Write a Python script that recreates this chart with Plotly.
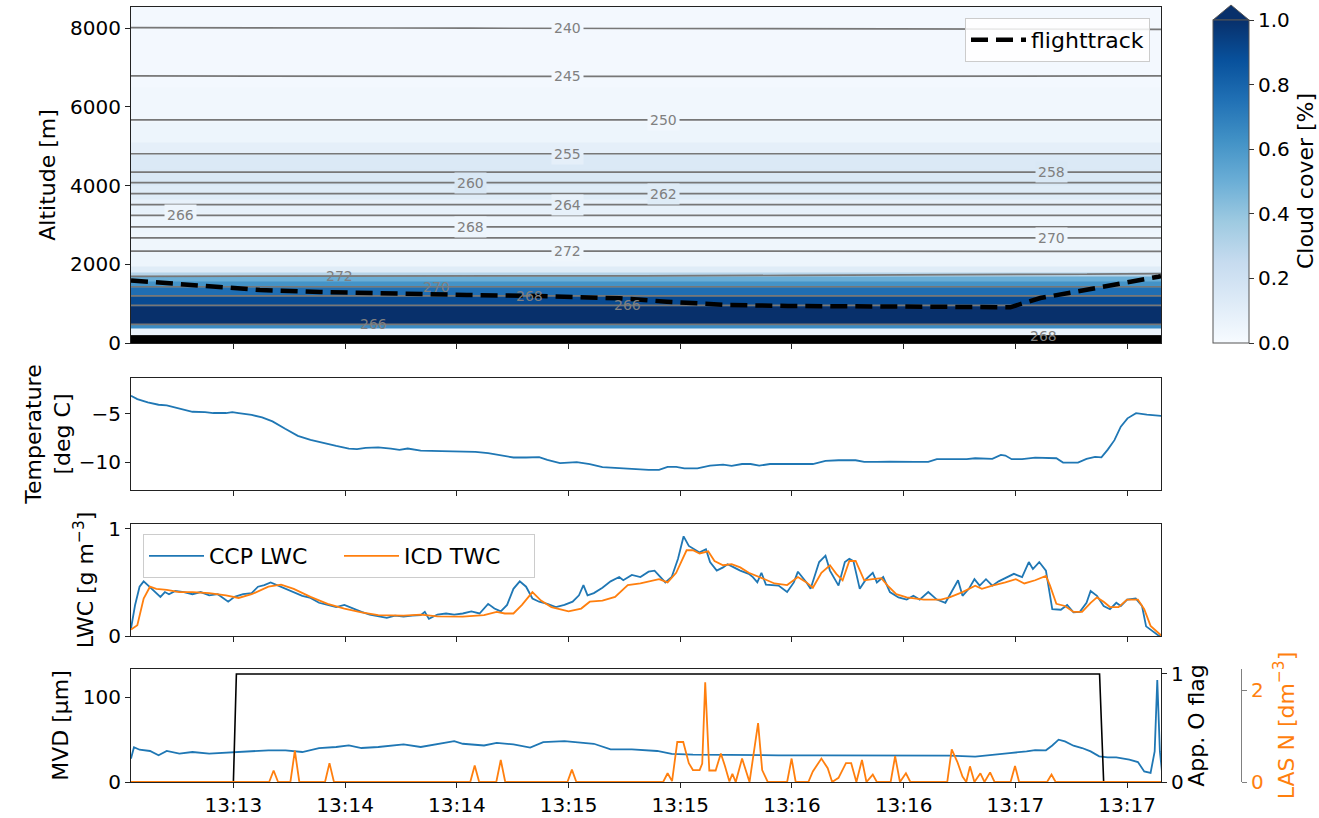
import numpy as np
import pandas as pd
import plotly.graph_objects as go
from plotly.colors import sample_colorscale

# ---------------------------------------------------------------------------
# Data (time in seconds after 13:13:00)
# ---------------------------------------------------------------------------
temp_t = [2.5, 4.2, 7.0, 9.9, 12.1, 14.4, 16.7, 19.0, 22.4, 24.6,
          28.0, 29.7, 31.4, 34.9, 37.7, 40.5, 43.9, 47.3, 50.7, 54.1,
          57.6, 61.0, 63.2, 65.5, 68.9, 72.3, 74.6, 76.8, 80.3, 85.9,
          91.6, 95.0, 98.4, 103.0, 105.2, 108.6, 112.1, 114.3, 117.7, 122.2,
          125.7, 129.1, 133.6, 137.0, 141.5, 144.3, 146.6, 148.9, 151.1, 154.6,
          158.0, 161.5, 163.8, 166.6, 168.9, 171.2, 174.1, 178.7, 185.6, 189.0,
          192.5, 197.1, 199.4, 202.8, 206.3, 213.1, 216.6, 218.9, 222.3, 224.6,
          226.9, 229.2, 233.8, 236.1, 237.3, 239.0, 241.8, 245.3, 251.0, 252.8,
          256.8, 259.1, 261.4, 263.1, 264.8, 266.6, 268.3, 270.1, 272.4, 275.3,
          279.3]
temp_c = [-3.10, -3.45, -3.80, -4.04, -4.10, -4.30, -4.56, -4.77, -4.80, -4.90,
          -4.90, -4.80, -4.90, -5.10, -5.36, -5.77, -6.54, -7.27, -7.68, -8.03,
          -8.31, -8.59, -8.66, -8.52, -8.48, -8.59, -8.73, -8.59, -8.80, -8.86,
          -8.86, -8.93, -9.07, -9.35, -9.52, -9.52, -9.49, -9.77, -10.10, -10.00,
          -10.20, -10.53, -10.63, -10.74, -10.80, -10.80, -10.50, -10.50, -10.65, -10.65,
          -10.37, -10.27, -10.40, -10.20, -10.20, -10.37, -10.20, -10.20, -10.20, -9.88,
          -9.81, -9.81, -9.98, -9.98, -9.95, -9.98, -9.98, -9.70, -9.70, -9.64,
          -9.70, -9.60, -9.67, -9.25, -9.32, -9.70, -9.70, -9.53, -9.60, -10.05,
          -10.05, -9.67, -9.46, -9.50, -8.70, -7.72, -6.32, -5.45, -4.92, -5.06,
          -5.20]

ccp_t = [2.5, 3.6, 4.8, 5.9, 7.0, 8.7, 10.4, 11.6, 12.7, 14.4,
         16.7, 19.0, 21.2, 23.5, 25.8, 28.6, 30.3, 32.6, 34.9, 36.6,
         38.3, 40.0, 41.7, 44.0, 46.2, 48.5, 50.7, 53.0, 55.3, 57.6,
         59.8, 62.1, 64.4, 66.6, 68.9, 71.2, 73.4, 75.7, 78.0, 80.3,
         81.4, 82.5, 84.8, 87.1, 89.3, 91.6, 93.9, 96.1, 98.4, 100.1,
         101.8, 103.5, 105.2, 106.9, 108.6, 110.3, 112.1, 114.3, 116.6, 118.9,
         121.1, 122.8, 124.0, 125.1, 126.8, 129.1, 131.3, 133.6, 134.7, 137.0,
         139.3, 141.5, 143.1, 146.0, 147.7, 149.4, 150.9, 152.3, 155.2, 156.9,
         158.0, 159.8, 161.5, 162.7, 164.4, 166.1, 168.4, 169.5, 170.7, 171.8,
         173.0, 176.4, 178.7, 180.5, 181.6, 183.9, 185.0, 187.3, 189.0, 190.2,
         192.5, 194.2, 195.4, 196.5, 198.2, 199.9, 201.7, 202.8, 204.5, 206.3,
         208.6, 210.8, 212.6, 214.3, 216.6, 218.9, 221.2, 222.9, 224.6, 225.8,
         227.5, 229.0, 230.4, 232.1, 233.8, 235.5, 237.8, 239.6, 241.8, 243.6,
         244.7, 246.4, 248.2, 249.9, 252.2, 253.9, 255.6, 257.3, 259.1, 260.2,
         261.9, 263.7, 265.4, 267.1, 268.3, 270.0, 272.3, 274.0, 275.1, 276.9,
         278.6, 279.3]
ccp_lwc = [0.07, 0.29, 0.46, 0.51, 0.475, 0.42, 0.365, 0.41, 0.39, 0.42,
           0.41, 0.39, 0.41, 0.38, 0.39, 0.32, 0.365, 0.39, 0.40, 0.46,
           0.475, 0.50, 0.475, 0.44, 0.41, 0.375, 0.355, 0.31, 0.29, 0.27,
           0.29, 0.256, 0.225, 0.20, 0.184, 0.17, 0.19, 0.18, 0.19, 0.194,
           0.225, 0.16, 0.20, 0.21, 0.20, 0.21, 0.23, 0.21, 0.30, 0.256,
           0.23, 0.29, 0.44, 0.51, 0.46, 0.35, 0.32, 0.30, 0.27, 0.29,
           0.32, 0.38, 0.475, 0.38, 0.40, 0.45, 0.51, 0.55, 0.52, 0.57,
           0.55, 0.60, 0.61, 0.50, 0.55, 0.72, 0.93, 0.84, 0.78, 0.81,
           0.69, 0.61, 0.64, 0.67, 0.64, 0.61, 0.58, 0.55, 0.50, 0.59,
           0.48, 0.47, 0.41, 0.50, 0.60, 0.50, 0.44, 0.69, 0.75, 0.61,
           0.47, 0.69, 0.72, 0.70, 0.44, 0.53, 0.59, 0.50, 0.55, 0.41,
           0.36, 0.34, 0.375, 0.34, 0.41, 0.34, 0.31, 0.41, 0.52, 0.375,
           0.44, 0.53, 0.47, 0.53, 0.47, 0.51, 0.55, 0.58, 0.55, 0.69,
           0.625, 0.69, 0.61, 0.25, 0.245, 0.29, 0.22, 0.225, 0.31, 0.42,
           0.375, 0.28, 0.25, 0.31, 0.28, 0.34, 0.35, 0.28, 0.09, 0.04,
           0.0, 0.0]

icd_t = [2.5, 4.2, 5.9, 7.6, 9.3, 12.1, 15.5, 19.0, 23.5, 28.0,
         31.4, 34.9, 39.4, 42.8, 46.2, 50.7, 55.3, 59.8, 64.4, 68.9,
         75.7, 80.3, 84.8, 91.6, 97.3, 100.7, 102.9, 105.2, 107.5, 110.3,
         112.6, 115.4, 120.0, 123.4, 125.7, 129.1, 132.5, 135.9, 139.3, 142.7,
         144.3, 146.6, 148.9, 151.7, 153.4, 155.2, 157.5, 159.2, 161.5, 163.8,
         166.1, 168.4, 170.7, 173.0, 175.3, 178.7, 181.6, 183.9, 185.6, 187.9,
         190.2, 191.9, 193.6, 195.4, 197.1, 199.4, 201.7, 204.0, 205.7, 208.0,
         210.8, 215.4, 220.0, 222.3, 225.8, 229.2, 231.0, 233.8, 237.3, 240.1,
         242.4, 245.3, 248.2, 249.3, 251.0, 253.3, 255.6, 257.9, 260.2, 261.9,
         263.7, 265.4, 267.7, 270.0, 272.9, 274.6, 276.3, 278.6, 279.3]
icd_twc = [0.06, 0.10, 0.35, 0.46, 0.44, 0.43, 0.41, 0.41, 0.40, 0.38,
           0.355, 0.39, 0.46, 0.48, 0.44, 0.365, 0.30, 0.256, 0.22, 0.194,
           0.19, 0.20, 0.184, 0.18, 0.194, 0.225, 0.21, 0.21, 0.29, 0.41,
           0.33, 0.27, 0.23, 0.256, 0.32, 0.33, 0.365, 0.475, 0.49, 0.52,
           0.53, 0.50, 0.59, 0.80, 0.80, 0.77, 0.79, 0.70, 0.66, 0.67,
           0.64, 0.59, 0.56, 0.525, 0.49, 0.475, 0.55, 0.50, 0.45, 0.59,
           0.66, 0.58, 0.52, 0.70, 0.70, 0.52, 0.53, 0.54, 0.47, 0.39,
           0.36, 0.34, 0.34, 0.36, 0.41, 0.47, 0.44, 0.47, 0.50, 0.53,
           0.49, 0.52, 0.56, 0.47, 0.30, 0.28, 0.225, 0.225, 0.31, 0.36,
           0.32, 0.27, 0.27, 0.34, 0.34, 0.25, 0.094, 0.016, 0.0]

mvd_t = [2.5, 3.3, 4.8, 7.6, 9.9, 12.1, 15.5, 19.0, 23.5, 28.0,
         30.3, 34.9, 39.4, 44.0, 48.5, 53.0, 57.6, 61.0, 64.4, 68.9,
         75.7, 80.3, 84.8, 89.3, 91.6, 97.3, 100.7, 105.2, 109.7, 113.2,
         118.9, 123.4, 126.8, 131.3, 137.0, 143.8, 147.7, 153.4, 164.9, 176.4,
         187.9, 199.4, 210.8, 222.3, 229.2, 233.8, 238.4, 243.0, 245.3, 248.2,
         249.9, 251.6, 253.3, 255.6, 257.9, 260.2, 262.5, 264.8, 267.1, 270.6,
         272.9, 274.6, 276.3, 277.4, 278.1, 278.8, 279.4]
mvd_um = [27.5, 41.0, 38.0, 36.5, 31.4, 36.5, 33.3, 35.3, 33.3, 34.5,
          35.3, 36.0, 37.3, 37.3, 35.3, 40.0, 41.2, 43.0, 40.0, 41.2,
          44.3, 41.2, 45.0, 48.0, 45.0, 43.0, 46.0, 44.3, 40.4, 47.0,
          48.0, 46.7, 45.0, 38.4, 38.4, 36.5, 33.0, 32.2, 31.4, 31.4,
          31.4, 31.4, 31.4, 31.0, 29.8, 32.2, 34.0, 36.0, 37.6, 37.3,
          43.0, 49.8, 47.8, 42.7, 40.0, 36.0, 30.2, 29.0, 29.0, 26.3,
          23.5, 12.5, 10.6, 36.0, 120.0, 36.0, 10.6]

flag_t = [2.5, 30.0, 30.8, 262.6, 263.7, 279.4]
flag_v = [0, 0, 1, 1, 0, 0]

las_t = [2.5, 39.6, 40.8, 42.0, 45.3, 46.5, 47.7, 54.6, 55.8, 57.0,
         93.6, 94.8, 96.0, 100.6, 101.8, 103.0, 119.7, 120.9, 122.1, 145.4,
         146.6, 147.8, 149.2, 150.8, 152.3, 153.4, 155.2, 155.9, 156.7, 157.8,
         159.5, 160.9, 162.0, 163.2, 164.0, 164.9, 166.6, 168.6, 170.9, 172.0,
         173.5, 178.7, 179.9, 181.0, 184.4, 185.6, 187.9, 189.6, 190.8, 192.5,
         194.5, 195.9, 197.3, 198.8, 200.0, 201.7, 202.8, 206.5, 207.7, 209.0,
         210.6, 211.8, 221.7, 222.9, 224.4, 225.8, 226.8, 227.8, 229.0, 230.6,
         231.7, 233.2, 234.4, 238.7, 239.9, 241.0, 248.5, 249.7, 250.8, 279.4]
las_n = [0, 0, 0.25, 0, 0, 0.68, 0, 0, 0.41, 0,
         0, 0.36, 0, 0, 0.48, 0, 0, 0.27, 0, 0,
         0.19, 0.02, 0.87, 0.87, 0.41, 0.26, 0.26, 0.40, 2.17, 0.25,
         0.25, 0.62, 0.35, 0.01, 0.18, 0, 0.51, 0, 1.28, 0.26,
         0, 0, 0.51, 0, 0, 0.23, 0.51, 0.30, 0, 0.09,
         0.41, 0.41, 0, 0.48, 0, 0.16, 0, 0, 0.56, 0,
         0.19, 0, 0, 0.71, 0.44, 0.12, 0, 0.34, 0, 0.19,
         0, 0.21, 0, 0, 0.35, 0, 0, 0.16, 0, 0]

# flight track altitude
track_t = [2.5, 29.1, 37.1, 53.2, 76.6, 92.7, 112.3, 123.9, 133.8, 146.4,
           155.3, 162.8, 178.9, 203.7, 230.5, 238.6, 246.7, 254.7, 262.8, 270.9,
           278.4, 279.1]
track_alt = [1587, 1415, 1346, 1295, 1237, 1219, 1194, 1176, 1135, 1049,
             990, 965, 940, 940, 914, 907, 1143, 1277, 1430, 1557,
             1684, 1700]

# terrain below the curtain
ground_t = [2.5, 279.1]
ground_alt = [200, 200]

# model cloud cover profile (layer edges in m, fraction per layer)
cloud_edges = [0, 200, 380, 460, 940, 1180, 1420, 1560, 1680, 1800, 1950,
               2300, 2800, 3300, 3650, 4000, 4400, 4800, 5100, 5600, 6500, 8700]
cloud_frac = [0.0, 0.06, 0.65, 1.0, 0.9, 0.76, 0.62, 0.5, 0.3, 0.12,
              0.05, 0.04, 0.05, 0.08, 0.12, 0.15, 0.14, 0.09, 0.05, 0.03, 0.02]
cloud_t_edges = [2.5, 279.1]

# model temperature field [K] on altitude levels at three output times
model_t = [2.5, 140.0, 279.1]
model_alt = [0, 250, 500, 750, 1000, 1250, 1500, 1750, 2000, 2250,
             2500, 2750, 3000, 3250, 3500, 3750, 4000, 4250, 4500, 5000,
             5500, 6000, 6500, 7000, 7500, 8000, 8500, 8700]
model_T_start = [269.1, 267.6, 265.8, 265.3, 266.15, 268.5, 270.6, 272.4, 272.9, 272.45,
                 271.1, 269.5, 267.6, 265.95, 264.1, 262.3, 260.6, 258.6, 256.9, 253.8,
                 250.7, 248.6, 246.3, 244.0, 242.0, 240.05, 237.9, 237.1]
model_T_mid = [269.1, 267.6, 265.8, 265.3, 266.15, 268.5, 270.6, 272.3, 272.9, 272.45,
               271.1, 269.5, 267.6, 265.95, 264.1, 262.3, 260.6, 258.6, 256.9, 253.8,
               250.7, 248.6, 246.3, 243.9, 242.0, 239.95, 237.9, 237.1]
model_T_end = [269.1, 267.6, 265.8, 265.3, 266.15, 268.5, 270.6, 271.95, 272.9, 272.45,
               271.0, 269.5, 267.6, 265.95, 264.1, 262.3, 260.6, 258.6, 256.9, 253.8,
               250.7, 248.6, 246.3, 244.0, 242.0, 239.85, 237.9, 237.1]

# where the isotherm labels sit: (level, seconds, crossing index from the top)
contour_label_spots = [(240, 119.6, 0), (245, 119.6, 0), (250, 145.6, 0), (255, 119.6, 0),
                       (258, 249.6, 0), (260, 93.8, 0), (262, 145.6, 0), (264, 119.6, 0),
                       (266, 15.9, 0), (268, 93.8, 0), (270, 249.6, 0), (272, 119.6, 0),
                       (272, 58.6, 1), (270, 84.6, 1), (268, 109.6, 1), (266, 135.7, 1),
                       (266, 67.5, 2), (268, 247.5, 2)]

tick_sec = [30, 60, 90, 120, 150, 180, 210, 240, 270]
x_lim_sec = [2.5, 279.1]

# ---------------------------------------------------------------------------
T0 = pd.Timestamp("2000-01-01 13:13:00")


def to_time(sec):
    return T0 + pd.to_timedelta(np.asarray(sec, dtype=float), unit="s")


BLUES = [[0.0, "#f7fbff"], [0.125, "#deebf7"], [0.25, "#c6dbef"], [0.375, "#9ecae1"],
         [0.5, "#6baed6"], [0.625, "#4292c6"], [0.75, "#2171b5"], [0.875, "#08519c"],
         [1.0, "#08306b"]]
C_BLUE = "#1f77b4"
C_ORANGE = "#ff7f0e"
FONT = "DejaVu Sans"
TICK_SIZE = 20
TITLE_SIZE = 22

W, H = 1319, 818
XD = [131 / W, 1161 / W]


def ydom(top_px, bottom_px):
    return [1 - bottom_px / H, 1 - top_px / H]


x_range = [to_time(x_lim_sec[0]), to_time(x_lim_sec[1])]
tickvals = to_time(tick_sec)
ticktext = [t.strftime("%H:%M") for t in tickvals]

model_field = np.column_stack([model_T_start, model_T_mid, model_T_end])

fig = go.Figure()

# --- panel 1: cloud cover curtain, isotherms, flight track -----------------
fig.add_trace(go.Heatmap(
    x=to_time(cloud_t_edges), y=cloud_edges,
    z=[[v] for v in cloud_frac],
    zmin=0, zmax=1, colorscale=BLUES, xaxis="x", yaxis="y",
    hoverinfo="skip", showlegend=False,
    colorbar=dict(x=1213 / W, xanchor="left", xpad=0, ypad=0,
                  y=1 - (20 + 343) / 2 / H, yanchor="middle",
                  len=323, lenmode="pixels", thickness=36, thicknessmode="pixels",
                  outlinecolor="#555555", outlinewidth=1,
                  tickvals=[0, 0.2, 0.4, 0.6, 0.8, 1.0],
                  ticktext=["0.0", "0.2", "0.4", "0.6", "0.8", "1.0"],
                  ticks="outside", ticklen=5, tickcolor="#333333",
                  tickfont=dict(family=FONT, size=TICK_SIZE, color="black")),
))

fig.add_trace(go.Scatter(
    x=to_time(ground_t), y=ground_alt, mode="lines", fill="tozeroy",
    fillcolor="black", line=dict(color="black", width=0),
    showlegend=False, hoverinfo="skip", xaxis="x", yaxis="y"))

for start, end, size in [(240, 255, 5), (258, 272, 2)]:
    fig.add_trace(go.Contour(
        x=to_time(model_t), y=model_alt, z=model_field,
        contours=dict(coloring="none", start=start, end=end, size=size, showlabels=False),
        line=dict(color="#777777", width=1.7), showscale=False, showlegend=False,
        hoverinfo="skip", xaxis="x", yaxis="y"))

fig.add_trace(go.Scatter(
    x=to_time(track_t), y=track_alt, mode="lines", name="flighttrack",
    line=dict(color="black", width=4.5, dash="17px,8px"),
    xaxis="x", yaxis="y", legend="legend"))


def isotherm_altitude(level, sec, branch):
    col = np.array([np.interp(sec, model_t, row) for row in model_field])
    hits = []
    for i in range(len(model_alt) - 1):
        a, b = col[i], col[i + 1]
        if (a - level) * (b - level) < 0:
            hits.append(model_alt[i] + (level - a) / (b - a) * (model_alt[i + 1] - model_alt[i]))
    hits.sort(reverse=True)
    return hits[branch]


def cloud_at(alt):
    idx = np.searchsorted(cloud_edges, alt, side="right") - 1
    idx = int(np.clip(idx, 0, len(cloud_frac) - 1))
    return cloud_frac[idx]


for level, sec, branch in contour_label_spots:
    alt = isotherm_altitude(level, sec, branch)
    if alt < 2000:
        bg = "rgba(0,0,0,0)"
    else:
        bg = sample_colorscale(BLUES, [cloud_at(alt)])[0]
    fig.add_annotation(x=to_time(sec), y=alt, xref="x", yref="y", text=str(level),
                       showarrow=False, bgcolor=bg, borderpad=2,
                       font=dict(family=FONT, size=14, color="#808080"))

# --- panel 2: temperature -----------------------------------------------------
fig.add_trace(go.Scatter(x=to_time(temp_t), y=temp_c, mode="lines",
                         line=dict(color=C_BLUE, width=1.8), showlegend=False,
                         xaxis="x2", yaxis="y2"))

# --- panel 3: water content ------------------------------------------------
fig.add_trace(go.Scatter(x=to_time(ccp_t), y=ccp_lwc, mode="lines", name="CCP LWC",
                         line=dict(color=C_BLUE, width=1.8), xaxis="x3", yaxis="y3",
                         legend="legend2"))
fig.add_trace(go.Scatter(x=to_time(icd_t), y=icd_twc, mode="lines", name="ICD TWC",
                         line=dict(color=C_ORANGE, width=1.8), xaxis="x3", yaxis="y3",
                         legend="legend2"))

# --- panel 4: MVD, flag, LAS number concentration ---------------------------
fig.add_trace(go.Scatter(x=to_time(mvd_t), y=mvd_um, mode="lines",
                         line=dict(color=C_BLUE, width=1.8), showlegend=False,
                         xaxis="x4", yaxis="y4"))
fig.add_trace(go.Scatter(x=to_time(flag_t), y=flag_v, mode="lines",
                         line=dict(color="black", width=1.6), showlegend=False,
                         xaxis="x4", yaxis="y5"))
fig.add_trace(go.Scatter(x=to_time(las_t), y=las_n, mode="lines",
                         line=dict(color=C_ORANGE, width=1.8), showlegend=False,
                         xaxis="x4", yaxis="y6"))

# --- axes -------------------------------------------------------------------
tick_font = dict(family=FONT, size=TICK_SIZE, color="black")
title_font = dict(family=FONT, size=TITLE_SIZE, color="black")
frame = dict(showline=True, linecolor="#222222", linewidth=1, mirror=True,
             ticks="outside", ticklen=5, tickwidth=1, tickcolor="#222222",
             showgrid=False, zeroline=False, tickfont=tick_font)


def xax(anchor, labels):
    return dict(domain=XD, anchor=anchor, range=x_range, type="date",
                tickvals=tickvals, ticktext=ticktext, showticklabels=labels, **frame)


layout = dict(
    width=W, height=H, margin=dict(l=0, r=0, t=0, b=0, pad=0, autoexpand=False),
    paper_bgcolor="white", plot_bgcolor="white",
    font=dict(family=FONT, size=TICK_SIZE, color="black"),
    xaxis=xax("y", False),
    xaxis2=xax("y2", False),
    xaxis3=xax("y3", False),
    xaxis4=xax("y4", True),
    yaxis=dict(domain=ydom(7, 343), anchor="x", range=[0, 8534],
               tickvals=[0, 2000, 4000, 6000, 8000],
               title=dict(text="Altitude [m]", font=title_font, standoff=8), **frame),
    yaxis2=dict(domain=ydom(378, 490), anchor="x2", range=[-12.9, -1.26],
                tickvals=[-10, -5], ticktext=["\u221210", "\u22125"],
                title=dict(text="Temperature<br>[deg C]", font=title_font, standoff=2), **frame),
    yaxis3=dict(domain=ydom(524, 636), anchor="x3", range=[0, 1.045],
                tickvals=[0, 1],
                title=dict(text="LWC [g m<sup>\u22123</sup>]", font=title_font, standoff=8),
                **frame),
    yaxis4=dict(domain=ydom(669, 782), anchor="x4", range=[0, 133],
                tickvals=[0, 100],
                title=dict(text="MVD [\u00b5m]", font=title_font, standoff=8), **frame),
    yaxis5=dict(overlaying="y4", anchor="x4", side="right", range=[0, 1.046],
                tickvals=[0, 1], showgrid=False, zeroline=False, showline=False,
                ticks="outside", ticklen=5, tickcolor="#222222", tickfont=tick_font,
                title=dict(text="App. O flag", font=title_font, standoff=2)),
    yaxis6=dict(overlaying="y4", anchor="free", position=1241 / W, side="right",
                range=[0, 2.457], tickvals=[0, 2], showgrid=False, zeroline=False,
                showline=True, linecolor="#808080", linewidth=1,
                ticks="outside", ticklen=5, tickcolor="#808080",
                tickfont=dict(family=FONT, size=TICK_SIZE, color=C_ORANGE),
                title=dict(text="LAS N [dm<sup>\u22123</sup>]",
                           font=dict(family=FONT, size=TITLE_SIZE, color=C_ORANGE))),
    legend=dict(x=1150 / W, y=1 - 18 / H, xanchor="right", yanchor="top",
                itemwidth=55,
                bgcolor="rgba(255,255,255,0.85)", bordercolor="#cccccc", borderwidth=1,
                font=dict(family=FONT, size=TITLE_SIZE, color="black")),
    legend2=dict(x=143 / W, y=1 - 534 / H, xanchor="left", yanchor="top",
                 orientation="h", itemwidth=55, entrywidth=125, entrywidthmode="pixels",
                 bgcolor="rgba(255,255,255,0.85)", bordercolor="#cccccc", borderwidth=1,
                 font=dict(family=FONT, size=TITLE_SIZE, color="black")),
    showlegend=True,
)
fig.update_layout(**layout)

# colorbar extension arrow and title
fig.add_shape(type="path", xref="paper", yref="paper",
              path=f"M {1213 / W},{1 - 20 / H} L {1249 / W},{1 - 20 / H} L {1231 / W},{1 - 5 / H} Z",
              fillcolor="#08306b", line=dict(color="#555555", width=1), layer="above")
fig.add_annotation(x=1306 / W, y=1 - 181 / H, xref="paper", yref="paper",
                   xanchor="center", yanchor="middle",
                   text="Cloud cover [%]", textangle=-90, showarrow=False,
                   font=title_font)

fig.write_html("out.html")
